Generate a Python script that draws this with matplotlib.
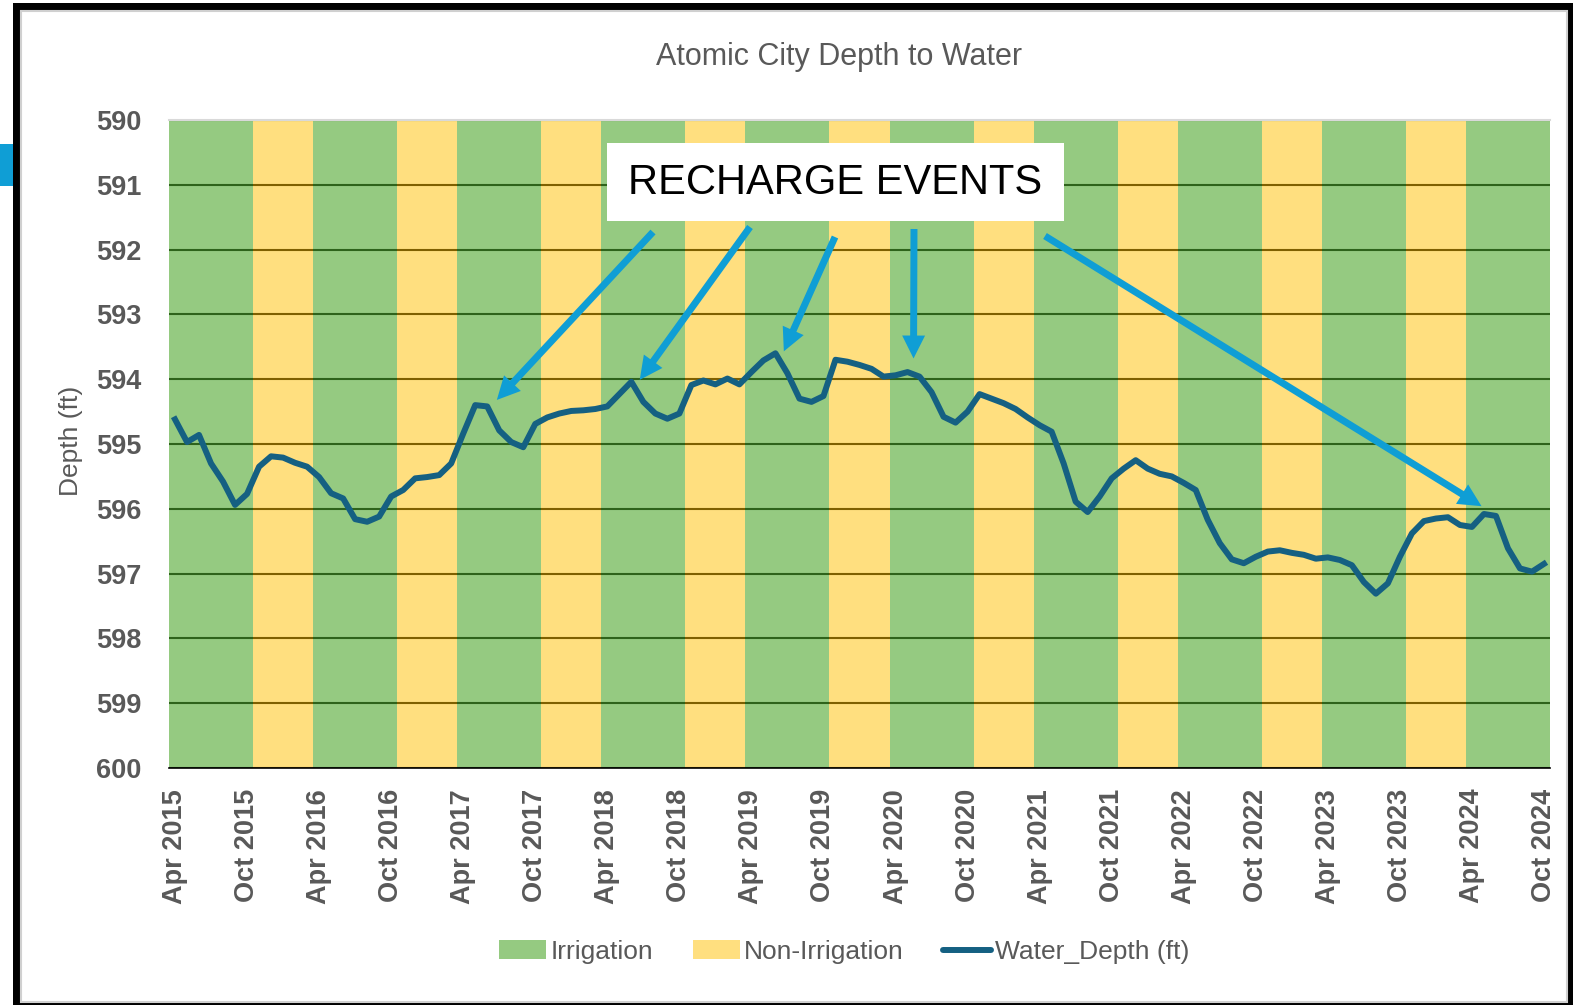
import numpy as np
import pandas as pd
import matplotlib
matplotlib.use("Agg")
import matplotlib.pyplot as plt
from matplotlib.patches import Rectangle, Patch
from matplotlib.lines import Line2D

# monthly depth to water, Apr 2015 .. Oct 2024 (ft below surface)
depth = [
    594.62, 594.97, 594.86, 595.30, 595.58, 595.94, 595.77, 595.35, 595.19, 595.21,
    595.29, 595.35, 595.51, 595.76, 595.84, 596.16, 596.20, 596.12, 595.81, 595.71,
    595.53, 595.51, 595.48, 595.30, 594.84, 594.40, 594.42, 594.79, 594.97, 595.05,
    594.69, 594.59, 594.53, 594.49, 594.48, 594.46, 594.42, 594.23, 594.04, 594.35,
    594.53, 594.61, 594.53, 594.09, 594.02, 594.08, 593.99, 594.08, 593.89, 593.71,
    593.60, 593.91, 594.30, 594.35, 594.26, 593.70, 593.73, 593.78, 593.84, 593.96,
    593.94, 593.89, 593.96, 594.20, 594.58, 594.67, 594.50, 594.23, 594.30, 594.37,
    594.46, 594.59, 594.71, 594.81, 595.30, 595.89, 596.05, 595.81, 595.53, 595.38,
    595.25, 595.38, 595.46, 595.50, 595.60, 595.71, 596.17, 596.53, 596.78, 596.84,
    596.74, 596.66, 596.64, 596.68, 596.71, 596.77, 596.75, 596.79, 596.87, 597.13,
    597.31, 597.15, 596.74, 596.38, 596.19, 596.15, 596.13, 596.25, 596.28, 596.08,
    596.11, 596.61, 596.92, 596.97, 596.85,
]
months = pd.date_range("2015-04-01", "2024-10-01", freq="MS")
irrigation_months = [4, 5, 6, 7, 8, 9, 10]
tick_labels = []
for yr in range(2015, 2025):
    tick_labels += [f"Apr {yr}", f"Oct {yr}"]

# arrow tips point at recharge peaks (month index, depth)
recharge_tips = [(26.8, 594.32), (38.7, 594.01), (50.7, 593.57), (61.5, 593.68), (108.8, 595.96)]
arrow_starts_px = [(653, 232), (750, 227), (835, 237), (914, 229), (1045, 236)]

GREEN = "#4EA72E"
YELLOW = "#FFC000"
LINE = "#156082"
ARROW = "#0F9ED5"
GREY = "#595959"
FONT = "Liberation Sans"

W, H = 1580, 1005
fig = plt.figure(figsize=(W / 100, H / 100), dpi=100)

def fx(px):
    return px / W

def fy(py):
    return 1 - py / H

# screenshot frame
fig.add_artist(Rectangle((0, fy(186)), fx(13), (186 - 144) / H, transform=fig.transFigure,
                         color=ARROW, lw=0, zorder=-3))
fig.add_artist(Rectangle((fx(13), 0), fx(1573 - 13), fy(3), transform=fig.transFigure,
                         color="black", lw=0, zorder=-3))
fig.add_artist(Rectangle((fx(21), fy(1002)), fx(1567 - 21), (1002 - 11) / H, transform=fig.transFigure,
                         facecolor="white", edgecolor="#D0D0D0", lw=1.5, zorder=-2))

ax = fig.add_axes([fx(169), fy(768), fx(1550 - 169), (768 - 120) / H])
ax.set_facecolor("white")

x = np.arange(len(months))
season_cols = [GREEN if m.month in irrigation_months else YELLOW for m in months]
season_alpha = [0.6 if m.month in irrigation_months else 0.5 for m in months]
for xi, c, a in zip(x, season_cols, season_alpha):
    ax.bar(xi, 10, bottom=590, width=1.0, color=c, alpha=a, lw=0, zorder=2)

for v in range(590, 601):
    ax.axhline(v, color="black", lw=1.5, zorder=1)

ax.plot(x, depth, color=LINE, lw=4.3, zorder=4, solid_joinstyle="round")

ax.set_xlim(-0.5, len(months) - 0.5)
ax.set_ylim(600, 590)
ax.set_yticks(range(590, 601))
ax.set_xticks(x[::6])
ax.set_xticklabels(tick_labels, rotation=90)
ax.tick_params(axis="both", length=0)
ax.tick_params(axis="y", pad=20)
ax.tick_params(axis="x", pad=15)
for lab in ax.get_xticklabels() + ax.get_yticklabels():
    lab.set_fontfamily(FONT)
    lab.set_fontweight("bold")
    lab.set_fontsize(19.5)
    lab.set_color(GREY)

for s in ["left", "right"]:
    ax.spines[s].set_visible(False)
ax.spines["top"].set_color("#D9D9D9")
ax.spines["top"].set_linewidth(1.5)
ax.spines["bottom"].set_color("black")
ax.spines["bottom"].set_linewidth(1.2)
ax.spines["bottom"].set_zorder(5)

fig.text(fx(839), fy(57), "Atomic City Depth to Water", ha="center", va="center",
         fontsize=22, color=GREY, family=FONT)
fig.text(fx(71), fy(441), "Depth (ft)", ha="center", va="center", rotation=90,
         fontsize=19, color=GREY, family=FONT)

# annotation box
fig.add_artist(Rectangle((fx(607), fy(221)), fx(1064 - 607), (221 - 143) / H,
                         transform=fig.transFigure, facecolor="white", lw=0, zorder=6))
fig.text(fx(835), fy(183), "RECHARGE EVENTS", ha="center", va="center",
         fontsize=30, color="black", family=FONT, zorder=7)

for (tx, ty), (sx, sy) in zip(recharge_tips, arrow_starts_px):
    ax.annotate("", xy=(tx, ty), xycoords="data", xytext=(sx, H - sy), textcoords="figure pixels",
                arrowprops=dict(arrowstyle="simple,head_length=1.65,head_width=1.65,tail_width=0.5",
                                mutation_scale=10, color=ARROW, lw=0, shrinkA=0, shrinkB=0),
                zorder=6, annotation_clip=False)

handles = [Patch(facecolor=GREEN, alpha=0.6, lw=0),
           Patch(facecolor=YELLOW, alpha=0.5, lw=0),
           Line2D([0], [0], color=LINE, lw=4.3, solid_capstyle="round")]
leg = ax.legend(handles, ["Irrigation", "Non-Irrigation", "Water_Depth (ft)"],
                loc="center", bbox_to_anchor=(fx(844), fy(952)), bbox_transform=fig.transFigure,
                ncol=3, frameon=False, handlelength=1.8, handleheight=0.75,
                handletextpad=0.15, columnspacing=1.5,
                prop={"family": FONT, "size": 19})
for t in leg.get_texts():
    t.set_color(GREY)

fig.savefig("out.png", dpi=100)
